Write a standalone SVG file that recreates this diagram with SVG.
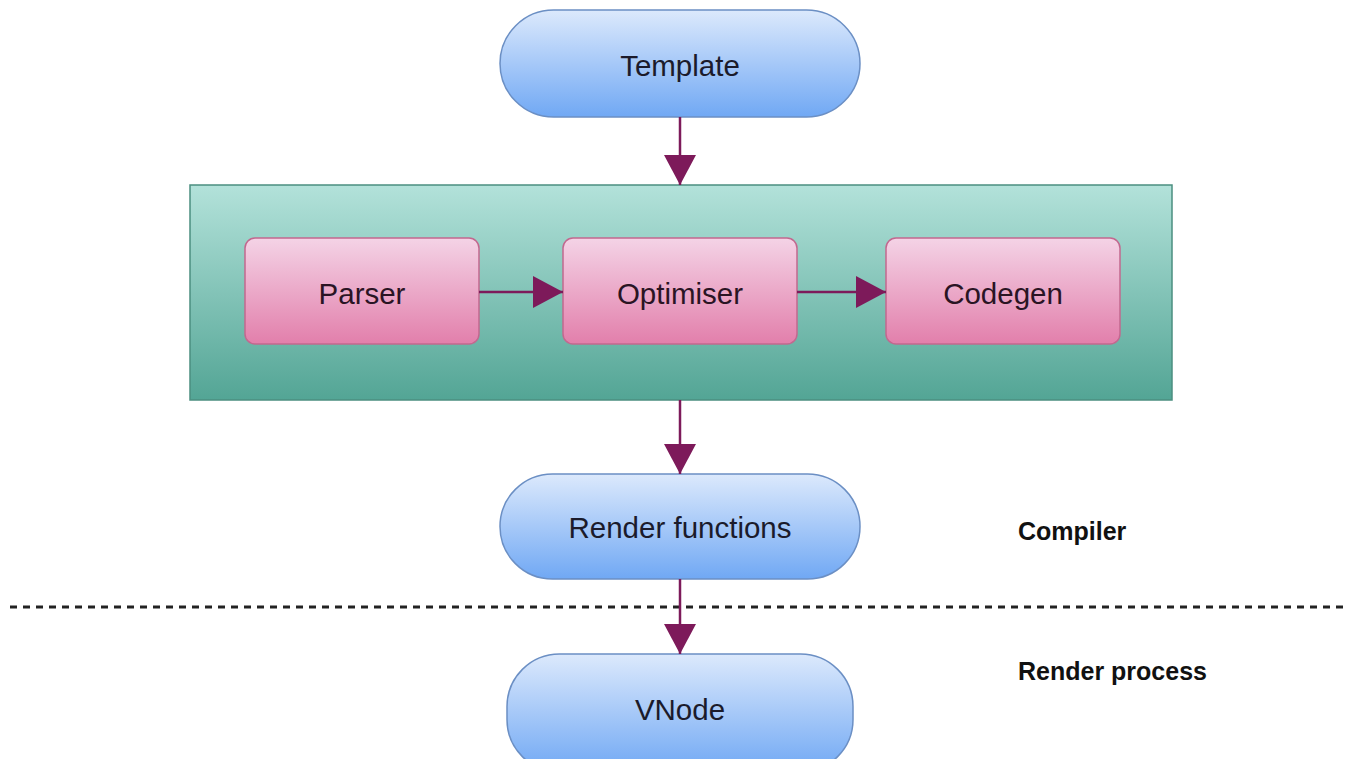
<svg xmlns="http://www.w3.org/2000/svg" width="1346" height="759" viewBox="0 0 1346 759">
  <defs>
    <linearGradient id="gBlue" x1="0" y1="0" x2="0" y2="1">
      <stop offset="0" stop-color="#dce9fc"/>
      <stop offset="1" stop-color="#70a8f4"/>
    </linearGradient>
    <linearGradient id="gPink" x1="0" y1="0" x2="0" y2="1">
      <stop offset="0" stop-color="#f4d3e6"/>
      <stop offset="1" stop-color="#e27fab"/>
    </linearGradient>
    <linearGradient id="gTeal" x1="0" y1="0" x2="0" y2="1">
      <stop offset="0" stop-color="#b3e2da"/>
      <stop offset="1" stop-color="#53a595"/>
    </linearGradient>
    <marker id="arrowBig" viewBox="0 0 30 32" refX="30" refY="16" markerWidth="30" markerHeight="32" markerUnits="userSpaceOnUse" orient="auto">
      <path d="M0,0 L30,16 L0,32 Z" fill="#7d1a5a"/>
    </marker>
  </defs>
  <style>
    .pill { fill: url(#gBlue); stroke: #6b8fc4; stroke-width: 1.5; }
    .step { fill: url(#gPink); stroke: #c2688f; stroke-width: 1.5; }
    .stage { fill: url(#gTeal); stroke: #4b8f80; stroke-width: 1.5; }
    .label { font-family: "Liberation Sans", Arial, sans-serif; font-size: 29.5px; fill: #1b1b2b; text-anchor: middle; dominant-baseline: central; }
    .plabel { fill: #2a1424; }
    .side { font-family: "Liberation Sans", Arial, sans-serif; font-size: 25px; font-weight: bold; fill: #111; }
    .link { stroke: #7d1a5a; stroke-width: 2.5; fill: none; marker-end: url(#arrowBig); }
    .divider { stroke: #222; stroke-width: 3; stroke-dasharray: 7 6; }
  </style>

  <rect width="1346" height="759" fill="#ffffff"/>

  <!-- compiler stage container -->
  <g id="compiler-stage">
    <rect class="stage" x="190" y="185" width="982" height="215"/>
  </g>

  <g id="template">
    <rect class="pill" x="500" y="10" width="360" height="107" rx="53.5" ry="53.5"/>
    <text class="label" x="680" y="65">Template</text>
  </g>

  <g id="parser">
    <rect class="step" x="245" y="238" width="234" height="106" rx="10" ry="10"/>
    <text class="label plabel" x="362" y="293">Parser</text>
  </g>

  <g id="optimiser">
    <rect class="step" x="563" y="238" width="234" height="106" rx="10" ry="10"/>
    <text class="label plabel" x="680" y="293">Optimiser</text>
  </g>

  <g id="codegen">
    <rect class="step" x="886" y="238" width="234" height="106" rx="10" ry="10"/>
    <text class="label plabel" x="1003" y="293">Codegen</text>
  </g>

  <g id="render-functions">
    <rect class="pill" x="500" y="474" width="360" height="105" rx="52.5" ry="52.5"/>
    <text class="label" x="680" y="527">Render functions</text>
  </g>

  <g id="vnode">
    <rect class="pill" x="507" y="654" width="346" height="118" rx="52.5" ry="52.5"/>
    <text class="label" x="680" y="709">VNode</text>
  </g>

  <!-- phase separator and labels -->
  <g id="phases">
    <line class="divider" x1="10" y1="607" x2="1346" y2="607"/>
    <text class="side" x="1018" y="540">Compiler</text>
    <text class="side" x="1018" y="680">Render process</text>
  </g>

  <g id="connectors">
    <line class="link" x1="680" y1="117" x2="680" y2="185"/>
    <line class="link" x1="479" y1="292" x2="563" y2="292"/>
    <line class="link" x1="797" y1="292" x2="886" y2="292"/>
    <line class="link" x1="680" y1="400" x2="680" y2="474"/>
    <line class="link" x1="680" y1="579" x2="680" y2="654"/>
  </g>
</svg>
